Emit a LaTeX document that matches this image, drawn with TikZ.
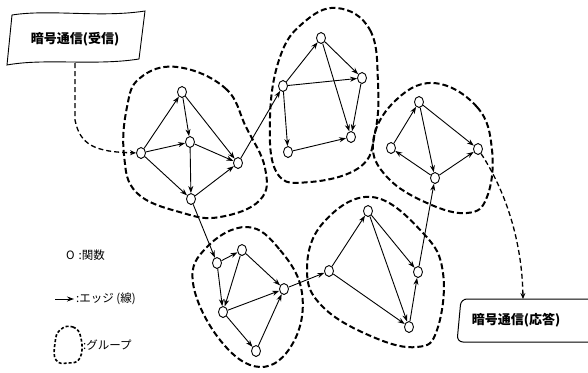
\documentclass[tikz,border=0pt]{standalone}
\usepackage{fontspec}
\newfontfamily\jp{Noto Sans CJK JP}
\usetikzlibrary{shapes.geometric,arrows.meta}
\begin{document}
\begin{tikzpicture}[x=1pt,y=-1pt,
  fn/.style={draw,ellipse,minimum width=9pt,minimum height=11pt,inner sep=0pt,line width=0.9pt,fill=white},
  edge/.style={-{Stealth[length=7pt,width=5pt]},line width=0.9pt},
  grp/.style={line width=2pt,dash pattern=on 6pt off 3pt},
  flow/.style={line width=1.3pt,dash pattern=on 5pt off 3pt,-{Stealth[length=6pt,width=5pt]}},
  lbl/.style={font=\jp\bfseries\fontsize{13}{15}\selectfont},
  leg/.style={font=\jp\fontsize{11.5}{13}\selectfont,anchor=west,inner sep=0pt}]
\useasboundingbox (0,0) rectangle (588,372);
% groups
\draw[grp] plot[smooth cycle,tension=0.7] coordinates {(177,67) (225,88) (246,127) (265,168) (260,200) (220,217) (183,213) (137,193) (124,155) (127,107) (140,78)};
\draw[grp] plot[smooth cycle,tension=0.7] coordinates {(337,8) (370,30) (378,83) (375,133) (360,167) (310,182) (277,173) (270,117) (280,57) (303,23)};
\draw[grp] plot[smooth cycle,tension=0.7] coordinates {(433,83) (477,107) (492,150) (487,197) (467,213) (427,203) (387,177) (373,143) (393,103)};
\draw[grp] plot[smooth cycle,tension=0.7] coordinates {(247,227) (280,250) (302,293) (293,343) (260,367) (220,340) (193,283) (207,247)};
\draw[grp] plot[smooth cycle,tension=0.7] coordinates {(372,197) (423,233) (443,273) (437,330) (417,347) (373,337) (323,307) (307,270) (323,223)};
% group 1
\node[fn] (a1) at (182,92) {};
\node[fn] (a2) at (190,142) {};
\node[fn] (a3) at (141,153) {};
\node[fn] (a4) at (238,163) {};
\node[fn] (a5) at (191,199) {};
% group 2
\node[fn] (b1) at (283,86) {};
\node[fn] (b2) at (321,38) {};
\node[fn] (b3) at (362,78) {};
\node[fn] (b4) at (351,137) {};
\node[fn] (b5) at (288,152) {};
% group 3
\node[fn] (c1) at (419,102) {};
\node[fn] (c2) at (391,148) {};
\node[fn] (c3) at (478,149) {};
\node[fn] (c4) at (435,178) {};
% group 4
\node[fn] (d1) at (217,263) {};
\node[fn] (d2) at (242,250) {};
\node[fn] (d3) at (284,289) {};
\node[fn] (d4) at (223,312) {};
\node[fn] (d5) at (256,351) {};
% group 5
\node[fn] (e1) at (329,271) {};
\node[fn] (e2) at (368,211) {};
\node[fn] (e3) at (418,272) {};
\node[fn] (e4) at (409,327) {};
% edges
\foreach \s/\t in {a3/a1,a3/a2,a3/a5,a1/a2,a1/a4,a2/a4,a2/a5,a5/a4,
  a4/b1,b1/b2,b1/b3,b2/b3,b2/b4,b3/b4,b1/b5,b5/b4,
  c2/c1,c4/c2,c1/c3,c1/c4,c4/c3,
  a5/d1,d1/d2,d1/d4,d2/d4,d2/d3,d4/d3,d4/d5,d5/d3,
  d3/e1,e1/e2,e1/e4,e2/e3,e2/e4,e4/e3,e3/c4}
  \draw[edge] (\s) -- (\t);
% input banner
\draw[line width=0.9pt,fill=white] (12,15) .. controls (50,9) and (100,18) .. (145,11)
  -- (139,59) .. controls (95,66) and (45,58) .. (7,65) -- cycle;
\node[lbl] (in) at (75,39) {暗号通信(受信)};
\coordinate (inb) at (75,63);
\draw[flow] (inb) -- (75,120) .. controls (80,145) and (95,152) .. (a3);
% output box
\draw[line width=1pt,rounded corners=6pt] (600,299) -- (461,299) -- (457,342) -- (600,342);
\node[lbl] (out) at (516,320) {暗号通信(応答)};
\coordinate (outt) at (523,299);
\draw[flow] (c3) .. controls (505,190) and (522,240) .. (outt);
% legend
\node[leg] (l1) at (66,255) {O\,\,:関数};
\coordinate (la) at (55,299);
\coordinate (lb) at (74,299);
\draw[edge] (la) -- (lb);
\node[leg] (l2) at (76,299) {:エッジ (線)};
\draw[line width=1.6pt,dash pattern=on 3pt off 2pt] plot[smooth cycle,tension=0.8] coordinates {(60,330) (73,327) (81,338) (80,358) (68,363) (56,360) (55,343)};
\node[leg] (l3) at (83,345) {:グループ};
\end{tikzpicture}
\end{document}
